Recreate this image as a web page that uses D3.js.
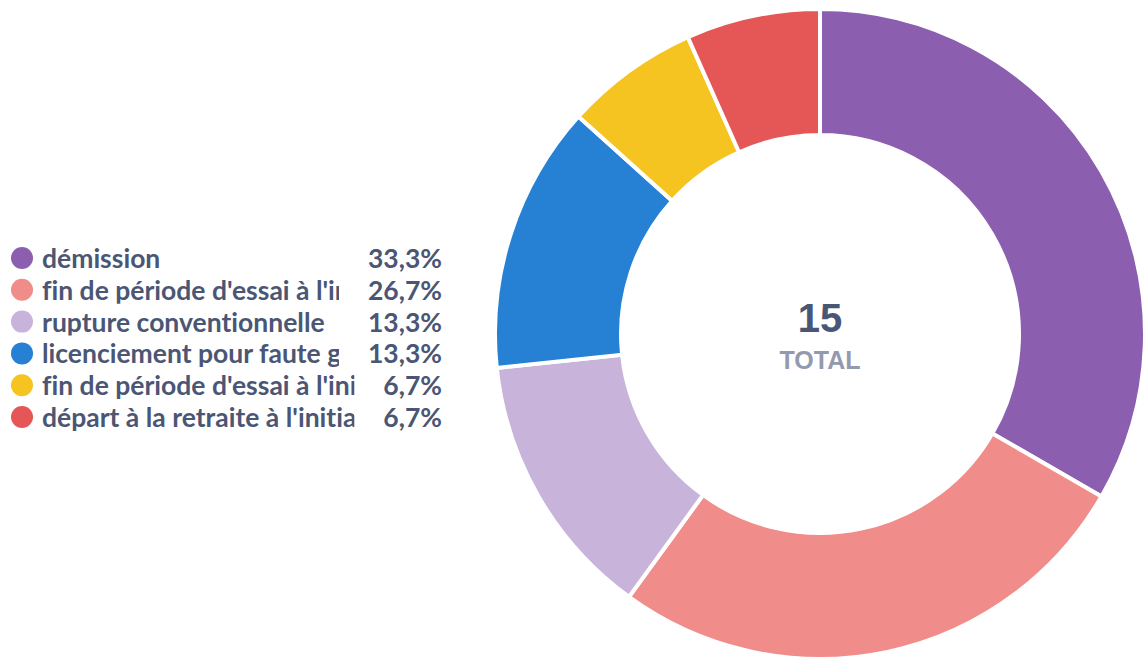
<!DOCTYPE html>
<html>
<head>
<meta charset="utf-8">
<script src="https://cdn.jsdelivr.net/npm/d3@7"></script>
<style>
  body { margin: 0; background: #fff; }
  svg { display: block; }
  text { font-variant-ligatures: none; }
</style>
</head>
<body>
<svg id="chart" width="1145" height="660"></svg>
<script>
// Data
const labels = [
  "démission",
  "fin de période d'essai à l'initiative de l'employeur",
  "rupture conventionnelle",
  "licenciement pour faute grave",
  "fin de période d'essai à l'initiative du salarié",
  "départ à la retraite à l'initiative du salarié"
];
const counts = [5, 4, 2, 2, 1, 1];
const colors = ["#8b5eb0", "#f08c89", "#c8b3da", "#2680d4", "#f6c421", "#e55757"];
const totalLabel = "TOTAL";

const width = 1145, height = 660;
const svg = d3.select("#chart");
const cx = 820, cy = 334;
const outerR = 325, innerR = 199;

const total = d3.sum(counts);
const data = labels.map((l, i) => ({ label: l, value: counts[i], color: colors[i] }));

// Donut
const pie = d3.pie().sort(null).value(d => d.value);
const arc = d3.arc().innerRadius(innerR).outerRadius(outerR);

const g = svg.append("g").attr("transform", `translate(${cx},${cy})`);
g.selectAll("path")
  .data(pie(data))
  .enter()
  .append("path")
  .attr("d", arc)
  .attr("fill", d => d.data.color)
  .attr("stroke", "#fff")
  .attr("stroke-width", 4);

g.append("text")
  .attr("text-anchor", "middle")
  .attr("y", -2)
  .attr("font-family", "'Liberation Sans', Arial, sans-serif")
  .attr("font-weight", "bold")
  .attr("font-size", 40)
  .attr("fill", "#4a5676")
  .text(total);

g.append("text")
  .attr("text-anchor", "middle")
  .attr("y", 35)
  .attr("font-family", "'Liberation Sans', Arial, sans-serif")
  .attr("font-weight", "bold")
  .attr("font-size", 25)
  .attr("fill", "#949aae")
  .text(totalLabel);

// Legend
const fmt = v => (v / total * 100).toFixed(1).replace(".", ",") + "%";
const legendX = 22, legendTop = 258, rowH = 31.8, pctRight = 442, textX = 42;

const legend = svg.append("g")
  .attr("font-family", "Lato, sans-serif")
  .attr("font-weight", "bold")
  .attr("font-size", 26.5)
  .attr("fill", "#4b5675");
const defs = svg.append("defs");

data.forEach((d, i) => {
  const y = legendTop + i * rowH;
  const row = legend.append("g");
  row.append("circle")
    .attr("cx", legendX).attr("cy", y).attr("r", 11)
    .attr("fill", d.color);
  const pct = row.append("text")
    .attr("x", pctRight).attr("y", y + 10)
    .attr("text-anchor", "end")
    .text(fmt(d.value));
  const pw = pct.node().getComputedTextLength();
  const clipW = pctRight - pw - 29 - textX;
  defs.append("clipPath").attr("id", "clip" + i)
    .append("rect").attr("x", textX).attr("y", y - 22).attr("width", clipW).attr("height", 36);
  const lbl = row.append("text")
    .attr("x", textX).attr("y", y + 10)
    .attr("clip-path", `url(#clip${i})`)
    .text(d.label);
  // keep only the glyphs that are at least partly visible
  let n = d.label.length;
  while (n > 1 && lbl.node().getSubStringLength(0, n - 1) >= clipW) n--;
  lbl.text(d.label.slice(0, n));
});
</script>
</body>
</html>
